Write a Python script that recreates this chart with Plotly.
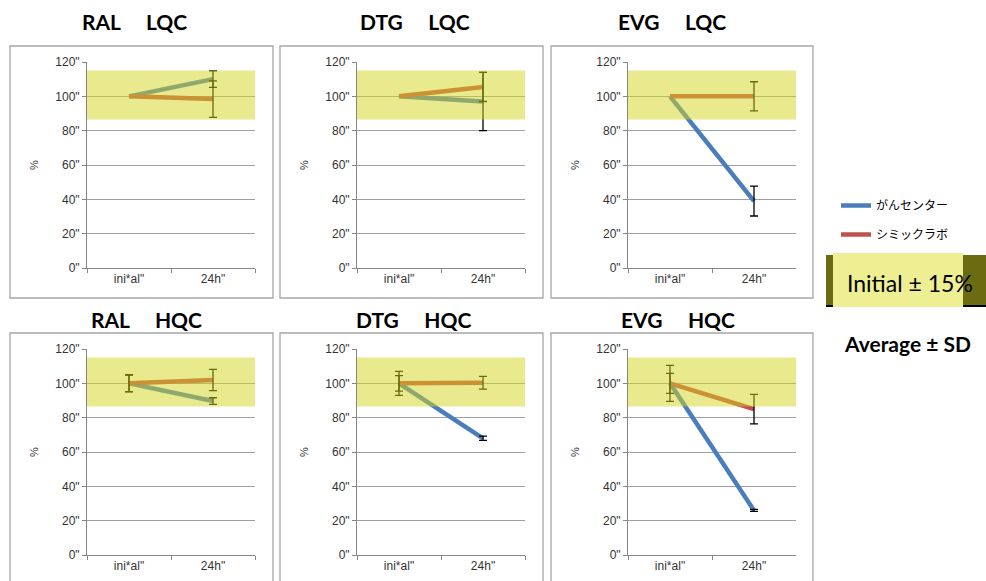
import plotly.graph_objects as go

# ---- data ----
categories = ['ini*al"', '24h"']
y_tickvals = [0, 20, 40, 60, 80, 100, 120]
y_ticktext = ['0"', '20"', '40"', '60"', '80"', '100"', '120"']

GAP = "\u00a0" * 5
panel_titles = ["RAL" + GAP + "LQC", "DTG" + GAP + "LQC", "EVG" + GAP + "LQC",
                "RAL" + GAP + "HQC", "DTG" + GAP + "HQC", "EVG" + GAP + "HQC"]

series_names = ["がんセンター", "シミックラボ"]

# mean (% of initial) per panel
center_mean = [[100, 110], [100, 97], [100, 39], [100, 89.7], [100, 68], [100, 26]]
center_sd = [[0, 4.8], [0, 17], [0, 8.7], [4.8, 1.9], [7, 1.2], [10.5, 0.6]]
cmic_mean = [[100, 98.4], [100, 105.5], [100, 100], [100, 101.9], [100, 100.3], [100, 85]]
cmic_sd = [[0, 10.6], [0, 8.5], [0, 8.5], [5, 6.2], [4.5, 3.7], [5.8, 8.6]]

band_low, band_high = 86.5, 115

# ---- layout geometry (pixels) ----
W, H = 986, 581
col_box_left = [10, 280, 551]
col_box_right = [273, 543, 813]
row_box_top = [46, 333]
row_box_bottom = [298, 585]
row_plot_top = [62, 349]
row_plot_bottom = [268, 555]
title_pos = [(134, 22), (415, 22), (672, 22), (146, 319), (413, 319), (678, 319)]

colors = ["#4a7ebb", "#c0504d"]
axis_gray = "#868686"
grid_gray = "#a0a0a0"
tick_font = dict(family="Liberation Sans", size=12, color="#333333")


def px_x(v):
    return v / W


def px_y(v):
    return 1 - v / H


fig = go.Figure()
shapes = []
annotations = []
layout_axes = {}

for i in range(6):
    row, col = divmod(i, 3)
    ax_id = "" if i == 0 else str(i + 1)
    xref, yref = "x" + ax_id, "y" + ax_id

    bl, br = col_box_left[col], col_box_right[col]
    pl, pr = bl + 77, bl + 245
    pt, pb = row_plot_top[row], row_plot_bottom[row]

    # chart frame
    shapes.append(dict(type="rect", xref="paper", yref="paper",
                       x0=px_x(bl), x1=px_x(br), y0=px_y(row_box_bottom[row]), y1=px_y(row_box_top[row]),
                       line=dict(color="#a6a6a6", width=1.3), fillcolor="white", layer="below"))

    for s, (means, sds) in enumerate([(center_mean, center_sd), (cmic_mean, cmic_sd)]):
        fig.add_trace(go.Scatter(
            x=categories, y=means[i], mode="lines", name=series_names[s],
            line=dict(color=colors[s], width=4.5),
            legendgroup=series_names[s], showlegend=(i == 0),
            xaxis=xref, yaxis=yref, hoverinfo="skip"))
    # error bars (only where a spread exists)
    for s, (means, sds) in enumerate([(center_mean, center_sd), (cmic_mean, cmic_sd)]):
        xs = [c for c, d in zip(categories, sds[i]) if d > 0]
        ys = [m for m, d in zip(means[i], sds[i]) if d > 0]
        es = [d for d in sds[i] if d > 0]
        fig.add_trace(go.Scatter(
            x=xs, y=ys, mode="markers", marker=dict(size=1, color="rgba(0,0,0,0)"),
            error_y=dict(type="data", array=es, color="black", thickness=1.3, width=4),
            showlegend=False, xaxis=xref, yaxis=yref, hoverinfo="skip"))

    layout_axes["xaxis" + ax_id] = dict(
        domain=[px_x(pl), px_x(pr)], anchor=yref, type="category",
        range=[-0.5, 1.5], tickson="boundaries", ticks="outside", ticklen=4,
        tickcolor=axis_gray, showline=True, linecolor=axis_gray, linewidth=1,
        showgrid=False, tickfont=tick_font, fixedrange=True, automargin=False)
    layout_axes["yaxis" + ax_id] = dict(
        domain=[px_y(pb), px_y(pt)], anchor=xref, range=[0, 120],
        tickvals=y_tickvals, ticktext=y_ticktext, ticks="outside", ticklen=4,
        tickcolor=axis_gray, showline=True, linecolor=axis_gray, linewidth=1,
        showgrid=True, gridcolor=grid_gray, gridwidth=1, zeroline=False,
        tickfont=tick_font, fixedrange=True, automargin=False)

    # acceptance band, layered over the data
    shapes.append(dict(type="rect", xref=xref + " domain", yref=yref,
                       x0=0, x1=1, y0=band_low, y1=band_high,
                       fillcolor="rgba(212,212,30,0.5)", line=dict(width=0), layer="above"))

    # panel title and y-axis label
    tx, ty = title_pos[i]
    annotations.append(dict(text=panel_titles[i], x=px_x(tx), y=px_y(ty), xref="paper", yref="paper",
                            showarrow=False, xanchor="center", yanchor="middle",
                            font=dict(family="Lato", size=21, color="black", weight="bold")))
    annotations.append(dict(text="%", x=px_x(bl + 24), y=px_y((pt + pb) / 2), xref="paper", yref="paper",
                            showarrow=False, textangle=-90, xanchor="center", yanchor="middle",
                            font=dict(family="Liberation Sans", size=11, color="#333333")))

# "Initial ± 15%" key
shapes.append(dict(type="rect", xref="paper", yref="paper", x0=px_x(826), x1=px_x(990),
                   y0=px_y(307), y1=px_y(255), fillcolor="black", line=dict(width=0), layer="above"))
shapes.append(dict(type="rect", xref="paper", yref="paper", x0=px_x(826), x1=px_x(990),
                   y0=px_y(305), y1=px_y(255), fillcolor="#6b6b12", line=dict(width=0), layer="above"))
shapes.append(dict(type="rect", xref="paper", yref="paper", x0=px_x(833), x1=px_x(963),
                   y0=px_y(307), y1=px_y(253), fillcolor="#eeee92", line=dict(width=0), layer="above"))
annotations.append(dict(text="Initial ± 15%", x=px_x(910), y=px_y(283), xref="paper", yref="paper",
                        showarrow=False, xanchor="center", yanchor="middle",
                        font=dict(family="Lato", size=23, color="black")))
annotations.append(dict(text="Average ± SD", x=px_x(907), y=px_y(343), xref="paper", yref="paper",
                        showarrow=False, xanchor="center", yanchor="middle",
                        font=dict(family="Lato", size=21, color="black", weight="bold")))

fig.update_layout(
    width=W, height=H, margin=dict(l=0, r=0, t=0, b=0, autoexpand=False),
    paper_bgcolor="white", plot_bgcolor="white",
    shapes=shapes, annotations=annotations,
    legend=dict(x=px_x(836), y=px_y(191), xanchor="left", yanchor="top",
                font=dict(family="Noto Sans CJK JP", size=12, color="black"),
                tracegroupgap=10, bgcolor="rgba(0,0,0,0)"),
    **layout_axes)

fig.write_html("out.html")
